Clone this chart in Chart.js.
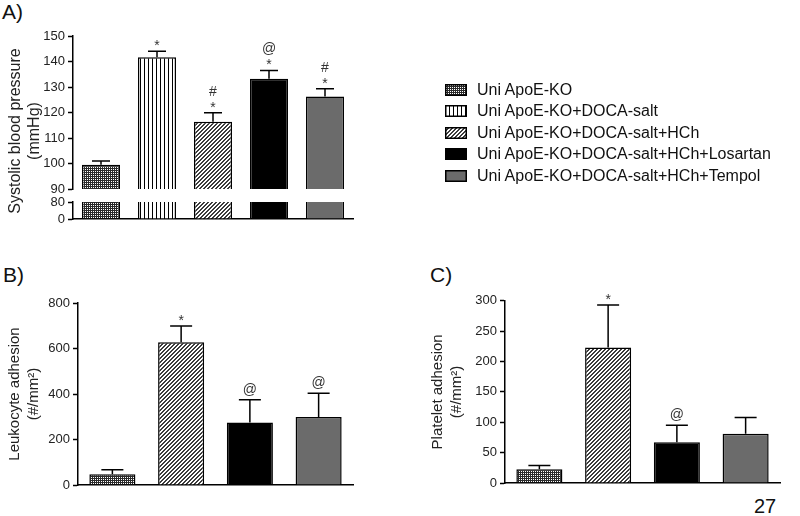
<!DOCTYPE html>
<html>
<head>
<meta charset="utf-8">
<script src="https://cdn.jsdelivr.net/npm/chart.js@4.4.0/dist/chart.umd.min.js"></script>
<style>
body { margin: 0; background: #fff; width: 800px; height: 516px; position: relative; overflow: hidden; font-family: "Liberation Sans", Arial, sans-serif; }
canvas.chart { position: absolute; }
#bpHigh { z-index: 5; }
.lbl { position: absolute; font-size: 21px; color: #111; line-height: 24px; }
#legend { position: absolute; left: 445px; top: 79px; font-size: 16px; color: #111; }
#legend div { height: 21.5px; display: flex; align-items: center; white-space: nowrap; }
#legend canvas { margin-right: 10px; }
</style>
</head>
<body>
<div class="lbl" style="left:2px;top:0px">A)</div>
<div class="lbl" style="left:3px;top:263px">B)</div>
<div class="lbl" style="left:430px;top:263px">C)</div>
<div class="lbl" style="left:754px;top:494px;font-size:20px">27</div>
<div id="legend"></div>
<canvas class="chart" id="bpLow" width="360" height="40" style="left:0;top:190px"></canvas>
<canvas class="chart" id="leuk" width="400" height="226" style="left:0;top:290px"></canvas>
<canvas class="chart" id="plat" width="400" height="226" style="left:400px;top:290px"></canvas>
<canvas class="chart" id="bpHigh" width="360" height="230" style="left:0;top:0"></canvas>
<script>
var groups = ['Uni ApoE-KO', 'Uni ApoE-KO+DOCA-salt', 'Uni ApoE-KO+DOCA-salt+HCh', 'Uni ApoE-KO+DOCA-salt+HCh+Losartan', 'Uni ApoE-KO+DOCA-salt+HCh+Tempol'];
var bpMean = [99.5, 141.7, 116.4, 133.2, 126.3];
var bpSem = [1.5, 2.3, 3.5, 3.3, 3.0];
var bpMarks = [[], ['*'], ['*', '#'], ['*', '@'], ['*', '#']];
var bpTicksHigh = [90, 100, 110, 120, 130, 140, 150];
var bpTicksLow = [0, 80];

var adhGroups = [groups[0], groups[2], groups[3], groups[4]];
var leukMean = [47, 627, 275, 299];
var leukSem = [20, 72, 100, 104];
var leukMarks = [[], ['*'], ['@'], ['@']];
var leukTicks = [0, 200, 400, 600, 800];
var platMean = [22.5, 223, 67, 81];
var platSem = [6.5, 70, 28, 27];
var platMarks = [[], ['*'], ['@'], []];
var platTicks = [0, 50, 100, 150, 200, 250, 300];

var FONT = '"Liberation Sans", Arial, sans-serif';
Chart.defaults.font.family = FONT;
Chart.defaults.color = '#222';

function makeFill(kind, ctx) {
    if (kind == 'black') return '#000';
    if (kind == 'gray') return '#6b6b6b';
    var c = document.createElement('canvas');
    var x = c.getContext('2d');
    c.width = kind == 'mesh' ? 2 : 4;
    c.height = c.width;
    x.fillStyle = '#fff';
    x.fillRect(0, 0, c.width, c.height);
    if (kind == 'mesh') {
        x.fillStyle = '#2a2a2a';
        x.fillRect(0, 0, 2, 1);
        x.fillRect(0, 0, 1, 2);
    } else if (kind == 'vert') {
        x.fillStyle = '#000';
        x.fillRect(0, 0, 1, 4);
    } else {
        x.fillStyle = '#3c3c3c';
        for (var i = 0; i < 4; i++) {
            x.fillRect(i, 3 - i, 1, 1);
            x.fillRect(i, (4 - i) % 4, 1, 1);
        }
    }
    return (ctx || x).createPattern(c, 'repeat');
}
var fillKinds = ['mesh', 'vert', 'diag', 'black', 'gray'];
var fills = fillKinds.map(function(k) { return makeFill(k); });
var adhFills = [fills[0], fills[2], fills[3], fills[4]];

// error bars, significance marks and an optional free y title
var extras = {
    id: 'extras',
    afterDatasetsDraw: function(chart, args, opts) {
        if (!opts.sem) return;
        var ctx = chart.ctx;
        var y = chart.scales.y;
        var data = chart.data.datasets[0].data;
        var sem = opts.sem, marks = opts.marks, cap = opts.cap;
        ctx.save();
        chart.getDatasetMeta(0).data.forEach(function(bar, i) {
            var top = y.getPixelForValue(data[i] + sem[i]);
            ctx.strokeStyle = '#000';
            ctx.lineWidth = 1.5;
            ctx.beginPath();
            ctx.moveTo(bar.x, bar.y);
            ctx.lineTo(bar.x, top);
            ctx.moveTo(bar.x - cap / 2, top);
            ctx.lineTo(bar.x + cap / 2, top);
            ctx.stroke();
        });
        ctx.fillStyle = '#333';
        ctx.font = '14px ' + FONT;
        ctx.textAlign = 'center';
        ctx.textBaseline = 'alphabetic';
        chart.getDatasetMeta(0).data.forEach(function(bar, i) {
            var top = y.getPixelForValue(data[i] + sem[i]);
            var list = marks[i];
            for (var j = 0; j < list.length; j++) {
                var m = list[j];
                var centre = top - (j == 0 && m != '*' ? 11 : 9) - 13 * j;
                ctx.fillText(m, bar.x, centre + (m == '*' ? 8 : 5));
            }
        });
        ctx.restore();
    },
    afterDraw: function(chart, args, opts) {
        if (!opts.title) return;
        var ctx = chart.ctx;
        var t = opts.title;
        ctx.save();
        ctx.fillStyle = '#222';
        ctx.font = '16px ' + FONT;
        ctx.textAlign = 'center';
        ctx.textBaseline = 'middle';
        for (var i = 0; i < t.lines.length; i++) {
            ctx.save();
            ctx.translate(t.x[i], t.y);
            ctx.rotate(-Math.PI / 2);
            ctx.fillText(t.lines[i], 0, 0);
            ctx.restore();
        }
        ctx.restore();
    }
};

function yAxis(ticks, width, title) {
    var ax = {
        min: ticks[0],
        max: ticks[ticks.length - 1],
        beginAtZero: false,
        ticks: { autoSkip: false, padding: 3, color: '#222', font: { size: 13 } },
        grid: { drawOnChartArea: false, drawTicks: true, tickLength: 5, tickWidth: 1.5, tickColor: '#000' },
        border: { display: true, color: '#000', width: 1.5 },
        afterBuildTicks: function(s) { s.ticks = ticks.map(function(v) { return { value: v }; }); },
        afterFit: function(s) { s.width = width; }
    };
    if (title) {
        ax.title = { display: true, text: title, color: '#222', font: { size: 15, lineHeight: 1.3 }, padding: { top: 5, bottom: 0 } };
    }
    return ax;
}

function xAxis(show) {
    return {
        display: show,
        ticks: { display: false },
        grid: { display: false },
        border: { display: true, color: '#000', width: 1.5 },
        afterFit: function(s) { s.height = 0; }
    };
}

function barChart(id, labels, values, colours, pct, pad, x, y, extra) {
    return new Chart(document.getElementById(id), {
        type: 'bar',
        data: {
            labels: labels,
            datasets: [{
                data: values,
                backgroundColor: colours,
                borderColor: '#000',
                borderWidth: 1.5,
                borderSkipped: 'start',
                barPercentage: pct,
                categoryPercentage: 1
            }]
        },
        options: {
            responsive: false,
            animation: false,
            layout: { padding: pad },
            scales: { x: x, y: y },
            plugins: { legend: { display: false }, tooltip: { enabled: false }, extras: extra }
        },
        plugins: [extras]
    });
}

barChart('bpHigh', groups, bpMean, fills, 0.68,
    { left: 0, top: 36, right: 7, bottom: 41 },
    xAxis(false), yAxis(bpTicksHigh, 73),
    { sem: bpSem, marks: bpMarks, cap: 18,
      title: { lines: ['Systolic blood pressure', '(mmHg)'], x: [16, 35], y: 131 } });

barChart('bpLow', groups, bpMean, fills, 0.68,
    { left: 0, top: 12, right: 7, bottom: 11 },
    xAxis(true), yAxis(bpTicksLow, 73), {});

barChart('leuk', adhGroups, leukMean, adhFills, 0.67,
    { left: 0, top: 13, right: 47, bottom: 31 },
    xAxis(true), yAxis(leukTicks, 78, ['Leukocyte adhesion', '(#/mm\u00b2)']),
    { sem: leukSem, marks: leukMarks, cap: 22 });

barChart('plat', adhGroups, platMean, adhFills, 0.67,
    { left: 23, top: 10, right: 20, bottom: 33 },
    xAxis(true), yAxis(platTicks, 82, ['Platelet adhesion', '(#/mm\u00b2)']),
    { sem: platSem, marks: platMarks, cap: 22 });

// legend
var legend = document.getElementById('legend');
groups.forEach(function(g, i) {
    var row = document.createElement('div');
    var sw = document.createElement('canvas');
    sw.width = 22;
    sw.height = 12;
    var sx = sw.getContext('2d');
    sx.fillStyle = makeFill(fillKinds[i], sx);
    sx.fillRect(0, 0, 22, 12);
    sx.strokeStyle = '#000';
    sx.lineWidth = 1.5;
    sx.strokeRect(0.75, 0.75, 20.5, 10.5);
    row.appendChild(sw);
    row.appendChild(document.createTextNode(g));
    legend.appendChild(row);
});
</script>
</body>
</html>
